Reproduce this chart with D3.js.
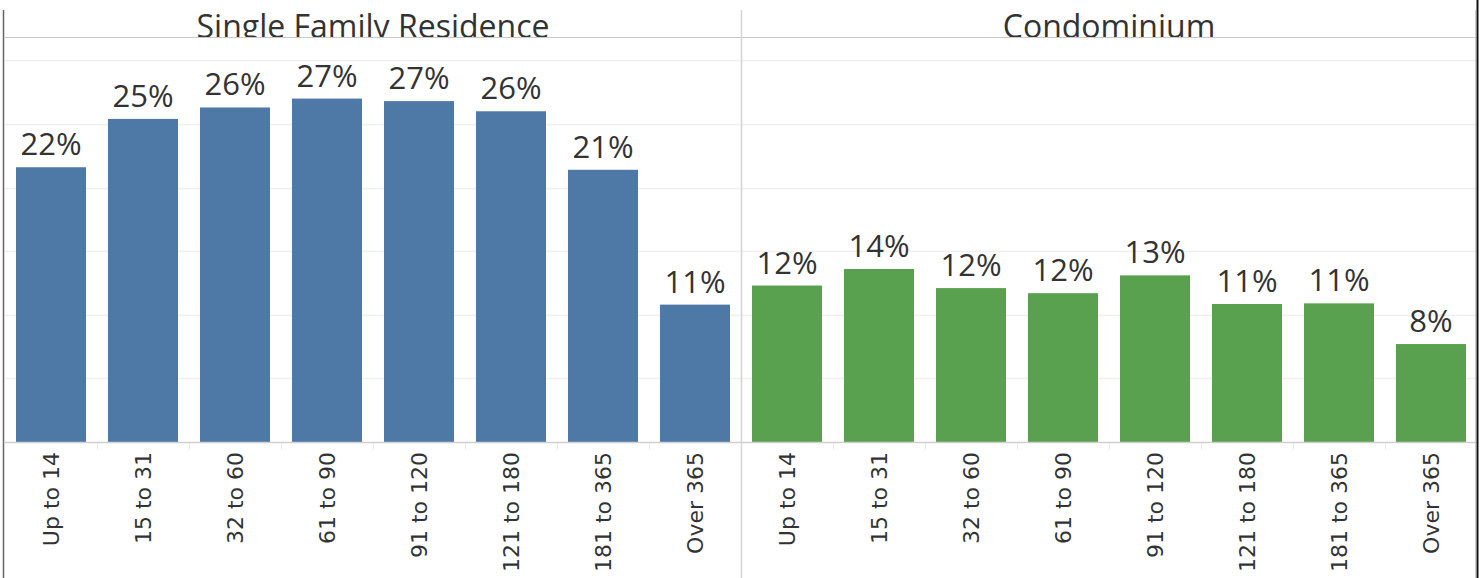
<!DOCTYPE html>
<html>
<head>
<meta charset="utf-8">
<script src="https://cdn.jsdelivr.net/npm/d3@7"></script>
<style>
  html, body { margin: 0; padding: 0; background: #fff; }
  svg { display: block; }
</style>
</head>
<body>
<svg id="chart" width="1483" height="578"></svg>
<script>
const panels = ["Single Family Residence", "Condominium"];
const categories = ["Up to 14", "15 to 31", "32 to 60", "61 to 90", "91 to 120", "121 to 180", "181 to 365", "Over 365"];
const sfrValues = [21.6, 25.4, 26.3, 27.0, 26.8, 26.0, 21.4, 10.8];
const condoValues = [12.3, 13.6, 12.1, 11.7, 13.1, 10.85, 10.9, 7.7];
const gridTicks = [0, 5, 10, 15, 20, 25, 30];
const panelColors = ["#4e79a7", "#59a14f"];

const svg = d3.select("#chart");
const W = 1483, H = 578;
const left = 5, right = 1477, mid = 741;
const headerTop = 10, headerBottom = 37;
const base = 442, topY = 60.4;

const y = d3.scaleLinear().domain([0, 30]).range([base, topY]);
const px = d3.scaleBand().domain(panels).range([left, right]);
const seriesByPanel = [sfrValues, condoValues];

// gridlines
svg.append("g").selectAll("line")
  .data(gridTicks.filter(t => t > 0))
  .join("line")
  .attr("x1", left).attr("x2", right)
  .attr("y1", d => Math.round(y(d)) + 0.5).attr("y2", d => Math.round(y(d)) + 0.5)
  .attr("stroke", "#f0f0f0").attr("stroke-width", 1.5);

panels.forEach((p, pi) => {
  const x0 = px(p), x1 = x0 + px.bandwidth();
  const x = d3.scaleBand().domain(categories).range([x0, x1])
    .paddingInner(0.239).paddingOuter(0.1195);
  const vals = seriesByPanel[pi];
  const g = svg.append("g");

  // bars
  g.selectAll("rect").data(categories).join("rect")
    .attr("x", d => x(d))
    .attr("width", x.bandwidth())
    .attr("y", (d, i) => y(vals[i]))
    .attr("height", (d, i) => base - y(vals[i]))
    .attr("fill", panelColors[pi]);

  // value labels
  g.selectAll("text.val").data(categories).join("text")
    .attr("class", "val")
    .attr("x", d => x(d) + x.bandwidth() / 2)
    .attr("y", (d, i) => y(vals[i]) - 12)
    .attr("text-anchor", "middle")
    .attr("font-family", "'Open Sans', sans-serif")
    .attr("font-size", 31)
    .attr("fill", "#333")
    .text((d, i) => Math.round(vals[i]) + "%");

  // separators between categories below axis
  g.selectAll("line.sep").data(categories.slice(1)).join("line")
    .attr("class", "sep")
    .attr("x1", d => Math.round(x(d) - x.step() * x.paddingInner() / 2) + 0.5)
    .attr("x2", d => Math.round(x(d) - x.step() * x.paddingInner() / 2) + 0.5)
    .attr("y1", base).attr("y2", base + 8)
    .attr("stroke", "#ececec").attr("stroke-width", 1);

  // category axis labels
  const axis = d3.axisBottom(x).tickSize(0).tickPadding(0);
  const ag = svg.append("g").attr("transform", `translate(0,${base})`).call(axis);
  ag.attr("font-family", null).attr("font-size", null);
  ag.select(".domain").remove();
  ag.selectAll("text")
    .attr("transform", "rotate(-90)")
    .attr("x", -10).attr("y", 0).attr("dy", "0.35em")
    .attr("text-anchor", "end")
    .style("font-family", "'DejaVu Sans', sans-serif")
    .style("font-size", "22px")
    .attr("fill", "#333");
});

// header titles, clipped at header line
const clip = svg.append("defs").append("clipPath").attr("id", "hclip");
clip.append("rect").attr("x", 0).attr("y", 0).attr("width", W).attr("height", headerBottom);
svg.append("g").attr("clip-path", "url(#hclip)")
  .selectAll("text").data(panels).join("text")
  .attr("x", d => px(d) + px.bandwidth() / 2)
  .attr("y", headerBottom + 1)
  .attr("text-anchor", "middle")
  .attr("font-family", "'Open Sans', sans-serif")
  .attr("font-size", 32)
  .attr("fill", "#333")
  .text(d => d);

// baseline
svg.append("line").attr("x1", left).attr("x2", right)
  .attr("y1", base + 0.5).attr("y2", base + 0.5)
  .attr("stroke", "#cfcfcf").attr("stroke-width", 1.5);

// header underline
svg.append("line").attr("x1", left).attr("x2", right)
  .attr("y1", headerBottom + 0.5).attr("y2", headerBottom + 0.5)
  .attr("stroke", "#c8c8c8").attr("stroke-width", 1.2);

// panel divider
svg.append("line").attr("x1", mid + 0.5).attr("x2", mid + 0.5)
  .attr("y1", headerTop).attr("y2", H)
  .attr("stroke", "#d4d4d4").attr("stroke-width", 1.5);

// outer borders
svg.append("line").attr("x1", 3.5).attr("x2", 3.5)
  .attr("y1", headerTop).attr("y2", H)
  .attr("stroke", "#666").attr("stroke-width", 1.5);
svg.append("line").attr("x1", 1477.5).attr("x2", 1477.5)
  .attr("y1", 0).attr("y2", H)
  .attr("stroke", "#111").attr("stroke-width", 2);
svg.append("line").attr("x1", 1475.5).attr("x2", 1475.5)
  .attr("y1", headerTop).attr("y2", H)
  .attr("stroke", "#ccc").attr("stroke-width", 1);
</script>
</body>
</html>
